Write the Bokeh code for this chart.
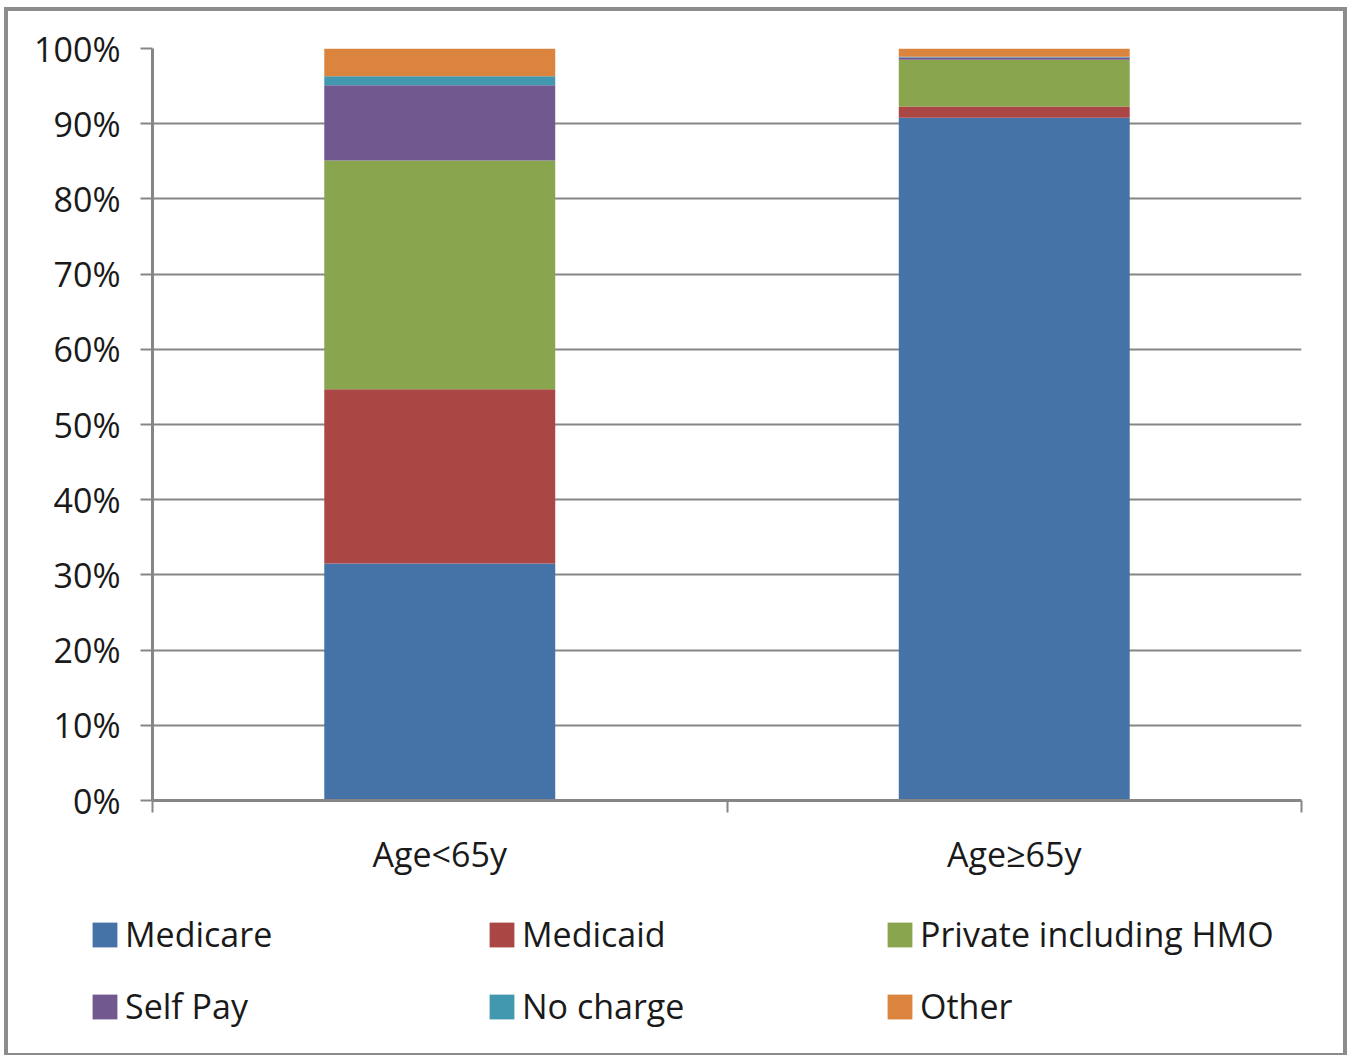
from bokeh.plotting import figure
from bokeh.layouts import column
from bokeh.models import (FixedTicker, Legend, LegendItem, Range1d, ColumnDataSource)
from bokeh.embed import file_html
from bokeh.resources import INLINE

categories = ["Age<65y", "Age≥65y"]
series = ["Medicare", "Medicaid", "Private including HMO", "Self Pay", "No charge", "Other"]
medicare = [31.5, 90.8]
medicaid = [23.2, 1.5]
private_hmo = [30.4, 6.2]
self_pay = [10.0, 0.3]
no_charge = [1.2, 0.1]
other = [3.7, 1.1]
y_ticks = [0, 10, 20, 30, 40, 50, 60, 70, 80, 90, 100]

colors = ["#4572A7", "#AA4643", "#89A54E", "#71588F", "#4198AF", "#DB843D"]
FONT = "Open Sans"
GRAY = "#868686"
TEXT = "#1a1a1a"
FS = "34px"

xs = [i + 0.5 for i in range(len(categories))]
source = ColumnDataSource(dict(
    x=xs,
    **{series[0]: medicare, series[1]: medicaid, series[2]: private_hmo,
       series[3]: self_pay, series[4]: no_charge, series[5]: other}))

p = figure(frame_width=1149, frame_height=752,
           min_border_left=144, min_border_right=42,
           min_border_top=37, min_border_bottom=80,
           x_range=Range1d(0, len(categories)), y_range=Range1d(0, 100),
           output_backend="svg", toolbar_location=None, tools="")
p.outline_line_color = None
p.background_fill_color = "white"
p.border_fill_color = "white"

renderers = p.vbar_stack(series, x="x", width=0.402, source=source,
                         color=colors, line_color=None)

# grid
p.xgrid.visible = False
p.ygrid.ticker = FixedTicker(ticks=y_ticks)
p.ygrid.grid_line_color = GRAY
p.ygrid.grid_line_width = 2

# y axis
ya = p.yaxis[0]
ya.ticker = FixedTicker(ticks=y_ticks)
ya.major_label_overrides = {t: f"{t}%" for t in y_ticks}
ya.axis_line_color = GRAY
ya.axis_line_width = 3
ya.major_tick_line_color = GRAY
ya.major_tick_line_width = 2
ya.major_tick_out = 12
ya.major_tick_in = 0
ya.minor_tick_line_color = None
ya.major_label_standoff = 20
ya.major_label_text_font = FONT
ya.major_label_text_font_size = FS
ya.major_label_text_color = TEXT

# x axis
xa = p.xaxis[0]
xa.ticker = FixedTicker(ticks=xs, minor_ticks=list(range(len(categories) + 1)))
xa.major_label_overrides = {x: c for x, c in zip(xs, categories)}
xa.axis_line_color = GRAY
xa.axis_line_width = 3
xa.major_tick_line_color = None
xa.major_tick_out = 12
xa.major_tick_in = 0
xa.minor_tick_line_color = GRAY
xa.minor_tick_line_width = 2
xa.minor_tick_out = 12
xa.minor_tick_in = 0
xa.major_label_standoff = 18
xa.major_label_text_font = FONT
xa.major_label_text_font_size = FS
xa.major_label_text_color = TEXT

# legend panel below the chart (hidden renderers only provide the swatches)
pl = figure(frame_width=1335, frame_height=173, min_border=0,
            x_range=Range1d(0, len(categories)), y_range=Range1d(0, 100),
            x_axis_location=None, y_axis_location=None,
            output_backend="svg", toolbar_location=None, tools="")
pl.outline_line_color = None
pl.xgrid.visible = False
pl.ygrid.visible = False
pl.border_fill_color = "white"
pl.background_fill_color = "white"

leg_renderers = pl.vbar_stack(series, x="x", width=0.402, source=source,
                              color=colors, line_color=None)
for r in leg_renderers:
    r.visible = False

col_x = [81, 478, 876]
for ci in range(3):
    idx = [ci, ci + 3]
    items = [LegendItem(label=series[i], renderers=[leg_renderers[i]]) for i in idx]
    lg = Legend(items=items, location=(col_x[ci], 24), orientation="vertical",
                padding=0, margin=0, spacing=26, click_policy="none",
                inactive_fill_alpha=0,
                glyph_width=31, glyph_height=31, label_standoff=5,
                label_text_font=FONT, label_text_font_size=FS,
                label_text_color=TEXT, border_line_color=None,
                background_fill_alpha=0)
    pl.add_layout(lg, "center")

layout = column(p, pl, spacing=0,
                styles={"border": "4px solid #8c8c8c", "margin-left": "4px",
                        "margin-top": "7px"})

open("out.html", "w").write(file_html(layout, INLINE))
